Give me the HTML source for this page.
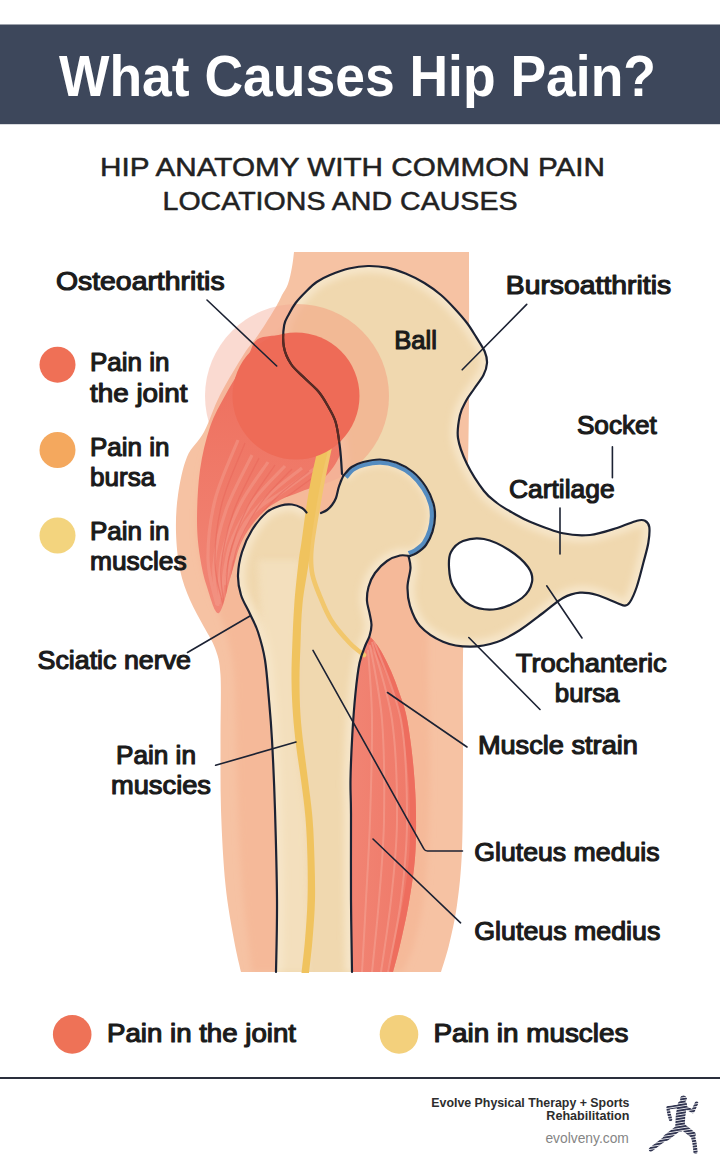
<!DOCTYPE html>
<html><head><meta charset="utf-8"><title>What Causes Hip Pain?</title>
<style>
html,body{margin:0;padding:0;background:#fff;}
body{width:720px;height:1171px;overflow:hidden;font-family:"Liberation Sans",sans-serif;}
svg{display:block;font-family:"Liberation Sans",sans-serif;}
</style></head>
<body>
<svg width="720" height="1171" viewBox="0 0 720 1171">
<defs>
<clipPath id="pc"><path d="M342.0,474.0 C341.7,469.7 341.1,456.7 340.0,448.0 C338.9,439.3 337.8,429.2 335.6,422.0 C333.4,414.8 329.9,409.7 327.0,404.5 C324.1,399.3 321.8,395.4 318.0,391.0 C314.2,386.6 309.0,382.5 304.5,378.0 C300.0,373.5 294.4,369.2 291.0,364.0 C287.6,358.8 284.9,353.0 283.8,346.5 C282.7,340.0 283.3,330.4 284.2,325.0 C285.1,319.6 287.1,317.7 289.0,314.0 C290.9,310.3 292.8,306.7 295.6,303.0 C298.4,299.3 302.1,295.5 305.6,292.0 C309.1,288.5 312.6,284.8 316.7,282.0 C320.8,279.2 324.6,277.2 330.0,275.0 C335.4,272.8 342.7,270.0 349.0,268.5 C355.3,267.0 361.7,266.1 368.0,266.0 C374.3,265.9 380.7,266.4 387.0,267.7 C393.3,269.0 399.4,271.1 405.6,273.6 C411.8,276.2 418.5,279.4 424.4,283.0 C430.3,286.6 435.9,290.7 441.0,295.0 C446.1,299.3 450.7,304.3 455.0,309.0 C459.3,313.7 463.4,318.3 467.0,323.0 C470.6,327.7 473.4,332.6 476.4,337.4 C479.3,342.1 482.9,347.2 484.7,351.5 C486.5,355.8 487.2,359.1 487.0,363.0 C486.8,366.9 485.7,370.7 483.5,375.0 C481.3,379.3 476.9,384.7 474.0,389.0 C471.1,393.3 468.3,396.7 466.0,401.0 C463.7,405.3 461.3,408.8 460.0,415.0 C458.7,421.2 456.8,429.8 458.0,438.0 C459.2,446.2 462.7,455.2 467.0,464.0 C471.3,472.8 479.0,484.5 484.0,491.0 C489.0,497.5 492.2,499.3 497.0,503.0 C501.8,506.7 507.5,509.9 513.0,513.0 C518.5,516.1 521.7,518.3 530.0,521.7 C538.3,525.1 553.0,531.1 563.0,533.3 C573.0,535.5 581.0,535.9 590.0,535.0 C599.0,534.1 609.2,530.4 617.0,528.0 C624.8,525.6 632.3,521.9 637.0,520.7 C641.7,519.5 643.0,519.7 645.0,520.7 C647.0,521.8 648.8,523.3 649.3,527.0 C649.8,530.7 649.3,537.0 648.3,543.0 C647.3,549.0 645.2,555.7 643.3,563.0 C641.4,570.3 638.9,580.5 636.7,587.0 C634.5,593.5 632.0,598.9 630.0,602.0 C628.0,605.1 627.2,605.5 625.0,605.7 C622.8,605.9 621.7,604.8 617.0,603.0 C612.3,601.2 603.2,596.7 597.0,595.0 C590.8,593.3 585.7,592.2 580.0,592.7 C574.3,593.2 569.2,594.6 563.0,598.0 C556.8,601.4 550.2,607.7 543.0,613.0 C535.8,618.3 527.7,625.2 520.0,630.0 C512.3,634.8 505.3,639.2 497.0,642.0 C488.7,644.8 479.0,646.8 470.0,646.7 C461.0,646.7 451.3,645.2 443.0,641.7 C434.7,638.2 425.5,632.0 420.0,626.0 C414.5,620.0 412.1,612.5 410.0,606.0 C407.9,599.5 407.4,593.3 407.5,587.0 C407.6,580.7 410.3,573.2 410.5,568.0 C410.7,562.8 408.8,558.0 408.5,556.0 L386,510 Z"/></clipPath>
<clipPath id="fc"><path d="M343.5,475.5 C344.9,474.1 348.4,469.2 351.7,467.0 C355.0,464.8 358.6,463.2 363.3,462.0 C368.0,460.8 374.4,459.4 380.0,459.5 C385.6,459.6 391.2,460.7 396.7,462.8 C402.2,464.9 408.1,468.0 413.0,472.0 C417.9,476.0 422.6,481.8 426.0,487.0 C429.4,492.2 431.9,498.4 433.4,503.3 C434.9,508.2 435.1,512.0 435.0,516.7 C434.9,521.4 434.0,527.0 432.5,531.7 C431.0,536.4 428.6,541.5 426.0,545.0 C423.4,548.5 419.4,551.2 416.7,553.0 C414.0,554.8 411.1,555.5 410.0,556.0 C408.3,555.9 403.8,554.7 400.0,555.5 C396.2,556.3 391.2,558.1 387.0,561.0 C382.8,563.9 378.1,568.7 375.0,573.0 C371.9,577.3 369.8,582.3 368.5,587.0 C367.2,591.7 366.8,596.7 367.0,601.0 C367.2,605.3 368.8,609.0 369.5,613.0 C370.2,617.0 371.5,621.2 371.5,625.0 C371.5,628.8 370.5,632.7 369.5,636.0 C368.5,639.3 367.2,640.5 365.5,645.0 C363.8,649.5 361.2,654.8 359.5,663.0 C357.8,671.2 356.6,682.0 355.4,694.0 C354.2,706.0 353.1,720.7 352.3,735.0 C351.5,749.3 350.7,766.8 350.5,780.0 C350.3,793.2 350.9,794.0 351.0,814.0 C351.1,834.0 350.8,873.7 351.0,900.0 C351.2,926.3 351.8,960.0 352.0,972.0 L276,972 C276.2,960.0 277.2,927.0 277.0,900.0 C276.8,873.0 275.8,836.7 275.0,810.0 C274.2,783.3 273.0,758.3 272.0,740.0 C271.0,721.7 270.2,713.3 269.0,700.0 C267.8,686.7 266.8,671.3 265.0,660.0 C263.2,648.7 260.5,639.7 258.0,632.0 C255.5,624.3 252.8,620.2 250.0,614.0 C247.2,607.8 243.0,601.5 241.0,595.0 C239.0,588.5 237.8,582.2 238.0,575.0 C238.2,567.8 239.7,559.5 242.0,552.0 C244.3,544.5 247.8,536.7 252.0,530.0 C256.2,523.3 262.2,516.1 267.0,512.0 C271.8,507.9 276.8,506.8 281.0,505.5 C285.2,504.2 288.5,504.1 292.0,504.5 C295.5,504.9 299.6,506.7 302.0,508.0 C304.4,509.3 305.8,511.8 306.5,512.5 L321,513 C322.0,512.5 325.2,511.3 327.0,510.0 C328.8,508.7 330.5,507.0 332.0,505.0 C333.5,503.0 334.9,500.8 336.0,498.0 C337.1,495.2 337.7,490.8 338.5,488.0 C339.3,485.2 340.2,483.1 341.0,481.0 C341.8,478.9 343.1,476.4 343.5,475.5 Z"/></clipPath>
<clipPath id="gc"><path d="M263.0,337.0 C250.7,339.7 252.2,351.5 246.0,361.0 C239.8,370.5 232.0,383.0 226.0,394.0 C220.0,405.0 214.3,414.3 210.0,427.0 C205.7,439.7 202.2,454.5 200.0,470.0 C197.8,485.5 197.0,505.5 197.0,520.0 C197.0,534.5 198.3,545.8 200.0,557.0 C201.7,568.2 203.8,577.7 207.0,587.0 C210.2,596.3 214.8,615.5 219.0,613.0 C223.2,610.5 228.2,584.0 232.0,572.0 C235.8,560.0 237.3,550.5 242.0,541.0 C246.7,531.5 253.7,521.8 260.0,515.0 C266.3,508.2 273.3,503.8 280.0,500.0 C286.7,496.2 293.3,495.0 300.0,492.0 C306.7,489.0 313.3,488.2 320.0,482.0 C326.7,475.8 335.0,467.0 340.0,455.0 C345.0,443.0 353.3,428.3 350.0,410.0 C346.7,391.7 334.5,357.2 320.0,345.0 C305.5,332.8 275.3,334.3 263.0,337.0Z"/></clipPath>
<clipPath id="mc"><path d="M369.0,636.0 C369.8,636.8 372.0,638.5 374.0,641.0 C376.0,643.5 378.2,646.0 381.0,651.0 C383.8,656.0 388.0,664.2 391.0,671.0 C394.0,677.8 396.5,684.8 399.0,692.0 C401.5,699.2 404.0,705.2 406.0,714.0 C408.0,722.8 409.6,734.0 411.0,745.0 C412.4,756.0 413.7,768.5 414.5,780.0 C415.3,791.5 415.9,801.0 416.0,814.0 C416.1,827.0 416.2,843.3 415.0,858.0 C413.8,872.7 411.5,887.5 409.0,902.0 C406.5,916.5 402.7,933.3 400.0,945.0 C397.3,956.7 394.2,967.5 393.0,972.0 L352,972 L351,900 L351,814 L350.5,780 L352.3,735 L355.4,694 L359.5,663 L365.5,645 Z"/></clipPath>
<clipPath id="sc"><path d="M294.0,252.0 C293.7,254.5 293.0,261.7 292.0,267.0 C291.0,272.3 289.7,279.3 288.0,284.0 C286.3,288.7 283.8,291.5 282.0,295.0 C280.2,298.5 279.7,300.3 277.0,305.0 C274.3,309.7 269.5,317.5 266.0,323.0 C262.5,328.5 259.7,332.8 256.0,338.0 C252.3,343.2 250.0,344.5 244.0,354.0 C238.0,363.5 226.7,382.0 220.0,395.0 C213.3,408.0 209.5,421.7 204.0,432.0 C198.5,442.3 191.3,446.5 187.0,457.0 C182.7,467.5 179.8,482.5 178.0,495.0 C176.2,507.5 175.7,519.5 176.0,532.0 C176.3,544.5 177.7,558.7 180.0,570.0 C182.3,581.3 186.0,590.5 190.0,600.0 C194.0,609.5 199.8,619.0 204.0,627.0 C208.2,635.0 212.2,640.0 215.0,648.0 C217.8,656.0 219.6,659.7 220.5,675.0 C221.4,690.3 220.4,717.5 220.5,740.0 C220.6,762.5 220.2,785.8 221.0,810.0 C221.8,834.2 223.3,863.3 225.5,885.0 C227.7,906.7 231.4,925.5 234.0,940.0 C236.6,954.5 239.8,966.7 241.0,972.0 L441,972 C442.3,967.5 446.3,956.2 449.0,945.0 C451.7,933.8 454.8,920.8 457.0,905.0 C459.2,889.2 461.0,874.2 462.0,850.0 C463.0,825.8 462.8,791.7 463.0,760.0 C463.2,728.3 462.5,693.3 463.0,660.0 C463.5,626.7 465.0,603.3 466.0,560.0 C467.0,516.7 468.5,451.3 469.0,400.0 C469.5,348.7 469.0,276.7 469.0,252.0 Z"/></clipPath>
<linearGradient id="gg" x1="0" y1="0" x2="0" y2="1"><stop offset="0" stop-color="#ee6d5b"/><stop offset="1" stop-color="#f18676"/></linearGradient>
<linearGradient id="mg" x1="0" y1="0" x2="1" y2="0"><stop offset="0" stop-color="#f18473"/><stop offset="1" stop-color="#ef7868"/></linearGradient>
<pattern id="sp" width="10" height="2.7" patternUnits="userSpaceOnUse" patternTransform="rotate(-9 680 1120)"><rect width="10" height="2.7" fill="#fff"/><rect y="1.75" width="10" height="0.95" fill="#222"/></pattern>
<mask id="stripes" maskUnits="userSpaceOnUse" x="640" y="1088" width="70" height="75"><rect x="640" y="1088" width="70" height="75" fill="url(#sp)"/></mask>
<filter id="b3" x="-10%" y="-10%" width="120%" height="120%"><feGaussianBlur stdDeviation="3"/></filter>
</defs>
<rect width="720" height="1171" fill="#ffffff"/>
<!-- header -->
<rect x="0" y="24.5" width="720" height="99.7" fill="#3d475b"/>
<text x="59" y="95.8" font-size="57.5" font-weight="bold" fill="#ffffff" text-anchor="start" textLength="597" lengthAdjust="spacingAndGlyphs">What Causes Hip Pain?</text>
<text x="100" y="176" font-size="26" font-weight="normal" fill="#222" text-anchor="start" textLength="505" lengthAdjust="spacingAndGlyphs" stroke="#222" stroke-width="0.5" stroke-linejoin="round">HIP ANATOMY WITH COMMON PAIN</text>
<text x="162.5" y="210" font-size="26" font-weight="normal" fill="#222" text-anchor="start" textLength="355" lengthAdjust="spacingAndGlyphs" stroke="#222" stroke-width="0.5" stroke-linejoin="round">LOCATIONS AND CAUSES</text>

<!-- anatomy -->
<g id="anatomy">
<path d="M294.0,252.0 C293.7,254.5 293.0,261.7 292.0,267.0 C291.0,272.3 289.7,279.3 288.0,284.0 C286.3,288.7 283.8,291.5 282.0,295.0 C280.2,298.5 279.7,300.3 277.0,305.0 C274.3,309.7 269.5,317.5 266.0,323.0 C262.5,328.5 259.7,332.8 256.0,338.0 C252.3,343.2 250.0,344.5 244.0,354.0 C238.0,363.5 226.7,382.0 220.0,395.0 C213.3,408.0 209.5,421.7 204.0,432.0 C198.5,442.3 191.3,446.5 187.0,457.0 C182.7,467.5 179.8,482.5 178.0,495.0 C176.2,507.5 175.7,519.5 176.0,532.0 C176.3,544.5 177.7,558.7 180.0,570.0 C182.3,581.3 186.0,590.5 190.0,600.0 C194.0,609.5 199.8,619.0 204.0,627.0 C208.2,635.0 212.2,640.0 215.0,648.0 C217.8,656.0 219.6,659.7 220.5,675.0 C221.4,690.3 220.4,717.5 220.5,740.0 C220.6,762.5 220.2,785.8 221.0,810.0 C221.8,834.2 223.3,863.3 225.5,885.0 C227.7,906.7 231.4,925.5 234.0,940.0 C236.6,954.5 239.8,966.7 241.0,972.0 L441,972 C442.3,967.5 446.3,956.2 449.0,945.0 C451.7,933.8 454.8,920.8 457.0,905.0 C459.2,889.2 461.0,874.2 462.0,850.0 C463.0,825.8 462.8,791.7 463.0,760.0 C463.2,728.3 462.5,693.3 463.0,660.0 C463.5,626.7 465.0,603.3 466.0,560.0 C467.0,516.7 468.5,451.3 469.0,400.0 C469.5,348.7 469.0,276.7 469.0,252.0 Z" fill="#f6c2a3"/>
<g clip-path="url(#sc)"><path d="M300.0,300.0 C297.5,304.2 291.3,316.7 285.0,325.0 C278.7,333.3 269.8,338.8 262.0,350.0 C254.2,361.2 245.5,378.3 238.0,392.0 C230.5,405.7 222.8,419.8 217.0,432.0 C211.2,444.2 206.3,450.3 203.0,465.0 C199.7,479.7 197.5,504.5 197.0,520.0 C196.5,535.5 198.2,546.7 200.0,558.0 C201.8,569.3 204.8,578.8 208.0,588.0 C211.2,597.2 215.7,604.3 219.0,613.0 C222.3,621.7 225.5,629.7 228.0,640.0 C230.5,650.3 232.7,658.3 234.0,675.0 C235.3,691.7 235.3,717.5 236.0,740.0 C236.7,762.5 237.0,785.8 238.0,810.0 C239.0,834.2 240.3,863.3 242.0,885.0 C243.7,906.7 246.3,925.5 248.0,940.0 C249.7,954.5 251.3,966.7 252.0,972.0 L403,972 C404.8,967.5 410.7,956.2 414.0,945.0 C417.3,933.8 420.7,920.8 423.0,905.0 C425.3,889.2 426.8,874.2 428.0,850.0 C429.2,825.8 430.0,791.7 430.0,760.0 C430.0,728.3 428.0,686.7 428.0,660.0 C428.0,633.3 428.0,626.7 430.0,600.0 C432.0,573.3 439.2,550.0 440.0,500.0 C440.8,450.0 435.8,333.3 435.0,300.0 Z" fill="#f5b999" filter="url(#b3)"/></g>
<circle cx="297" cy="396" r="92" fill="#f2a692" opacity="0.42"/>
<path d="M263.0,337.0 C250.7,339.7 252.2,351.5 246.0,361.0 C239.8,370.5 232.0,383.0 226.0,394.0 C220.0,405.0 214.3,414.3 210.0,427.0 C205.7,439.7 202.2,454.5 200.0,470.0 C197.8,485.5 197.0,505.5 197.0,520.0 C197.0,534.5 198.3,545.8 200.0,557.0 C201.7,568.2 203.8,577.7 207.0,587.0 C210.2,596.3 214.8,615.5 219.0,613.0 C223.2,610.5 228.2,584.0 232.0,572.0 C235.8,560.0 237.3,550.5 242.0,541.0 C246.7,531.5 253.7,521.8 260.0,515.0 C266.3,508.2 273.3,503.8 280.0,500.0 C286.7,496.2 293.3,495.0 300.0,492.0 C306.7,489.0 313.3,488.2 320.0,482.0 C326.7,475.8 335.0,467.0 340.0,455.0 C345.0,443.0 353.3,428.3 350.0,410.0 C346.7,391.7 334.5,357.2 320.0,345.0 C305.5,332.8 275.3,334.3 263.0,337.0Z" fill="url(#gg)"/>
<g clip-path="url(#gc)" fill="none" stroke="#f4a090" stroke-width="3.2" opacity="0.45">
<path d="M238.0,440.0 C234.2,450.0 220.0,480.0 215.0,500.0 C210.0,520.0 207.7,542.5 208.0,560.0 C208.3,577.5 215.5,597.5 217.0,605.0"/>
<path d="M252.0,455.0 C247.7,464.2 232.3,491.7 226.0,510.0 C219.7,528.3 215.3,549.0 214.0,565.0 C212.7,581.0 217.3,599.2 218.0,606.0"/>
<path d="M268.0,462.0 C263.3,469.2 247.7,489.5 240.0,505.0 C232.3,520.5 225.5,538.5 222.0,555.0 C218.5,571.5 219.5,595.8 219.0,604.0"/>
<path d="M285.0,466.0 C279.8,471.7 263.2,486.8 254.0,500.0 C244.8,513.2 235.5,528.7 230.0,545.0 C224.5,561.3 222.5,589.2 221.0,598.0"/>
<path d="M302.0,468.0 C296.3,472.7 278.3,485.3 268.0,496.0 C257.7,506.7 247.2,517.2 240.0,532.0 C232.8,546.8 227.5,576.2 225.0,585.0"/>
<path d="M318.0,466.0 C312.5,470.0 296.0,481.8 285.0,490.0 C274.0,498.2 260.8,503.3 252.0,515.0 C243.2,526.7 235.3,552.5 232.0,560.0"/>
</g>
<g clip-path="url(#gc)" fill="none" stroke="#e8675a" stroke-width="1.3" opacity="0.55">
<path d="M245.0,443.0 C241.2,453.0 227.0,483.0 222.0,503.0 C217.0,523.0 214.7,545.5 215.0,563.0 C215.3,580.5 222.5,600.5 224.0,608.0"/>
<path d="M259.0,458.0 C254.7,467.2 239.3,494.7 233.0,513.0 C226.7,531.3 222.3,552.0 221.0,568.0 C219.7,584.0 224.3,602.2 225.0,609.0"/>
<path d="M275.0,465.0 C270.3,472.2 254.7,492.5 247.0,508.0 C239.3,523.5 232.5,541.5 229.0,558.0 C225.5,574.5 226.5,598.8 226.0,607.0"/>
<path d="M292.0,469.0 C286.8,474.7 270.2,489.8 261.0,503.0 C251.8,516.2 242.5,531.7 237.0,548.0 C231.5,564.3 229.5,592.2 228.0,601.0"/>
<path d="M309.0,471.0 C303.3,475.7 285.3,488.3 275.0,499.0 C264.7,509.7 254.2,520.2 247.0,535.0 C239.8,549.8 234.5,579.2 232.0,588.0"/>
<path d="M325.0,469.0 C319.5,473.0 303.0,484.8 292.0,493.0 C281.0,501.2 267.8,506.3 259.0,518.0 C250.2,529.7 242.3,555.5 239.0,563.0"/>
</g>
<path d="M369.0,636.0 C369.8,636.8 372.0,638.5 374.0,641.0 C376.0,643.5 378.2,646.0 381.0,651.0 C383.8,656.0 388.0,664.2 391.0,671.0 C394.0,677.8 396.5,684.8 399.0,692.0 C401.5,699.2 404.0,705.2 406.0,714.0 C408.0,722.8 409.6,734.0 411.0,745.0 C412.4,756.0 413.7,768.5 414.5,780.0 C415.3,791.5 415.9,801.0 416.0,814.0 C416.1,827.0 416.2,843.3 415.0,858.0 C413.8,872.7 411.5,887.5 409.0,902.0 C406.5,916.5 402.7,933.3 400.0,945.0 C397.3,956.7 394.2,967.5 393.0,972.0 L352,972 L351,900 L351,814 L350.5,780 L352.3,735 L355.4,694 L359.5,663 L365.5,645 Z" fill="url(#mg)"/>
<g clip-path="url(#mc)"><path d="M369.0,636.0 C369.8,636.8 372.0,638.5 374.0,641.0 C376.0,643.5 378.2,646.0 381.0,651.0 C383.8,656.0 388.0,664.2 391.0,671.0 C394.0,677.8 396.5,684.8 399.0,692.0 C401.5,699.2 404.0,705.2 406.0,714.0 C408.0,722.8 409.6,734.0 411.0,745.0 C412.4,756.0 413.7,768.5 414.5,780.0 C415.3,791.5 415.9,801.0 416.0,814.0 C416.1,827.0 416.2,843.3 415.0,858.0 C413.8,872.7 411.5,887.5 409.0,902.0 C406.5,916.5 402.7,933.3 400.0,945.0 C397.3,956.7 394.2,967.5 393.0,972.0" fill="none" stroke="#ed6a5b" stroke-width="12" opacity="0.8"/></g>
<g clip-path="url(#mc)" fill="none" stroke="#f5a596" stroke-width="2" opacity="0.55">
<path d="M368.0,650.0 C368.7,661.7 371.7,691.7 372.0,720.0 C372.3,748.3 371.0,790.0 370.0,820.0 C369.0,850.0 367.3,874.7 366.0,900.0 C364.7,925.3 362.7,960.0 362.0,972.0"/>
<path d="M370.0,645.0 C372.0,657.5 379.7,690.8 382.0,720.0 C384.3,749.2 384.5,790.0 384.0,820.0 C383.5,850.0 381.0,874.7 379.0,900.0 C377.0,925.3 373.2,960.0 372.0,972.0"/>
<path d="M372.0,642.0 C375.3,655.0 387.8,690.3 392.0,720.0 C396.2,749.7 397.2,790.0 397.0,820.0 C396.8,850.0 393.7,874.7 391.0,900.0 C388.3,925.3 382.7,960.0 381.0,972.0"/>
<path d="M374.0,641.0 C378.5,654.2 395.5,690.2 401.0,720.0 C406.5,749.8 407.0,790.0 407.0,820.0 C407.0,850.0 404.2,874.7 401.0,900.0 C397.8,925.3 390.2,960.0 388.0,972.0"/>
</g>
<!-- pelvis -->
<path d="M342.0,474.0 C341.7,469.7 341.1,456.7 340.0,448.0 C338.9,439.3 337.8,429.2 335.6,422.0 C333.4,414.8 329.9,409.7 327.0,404.5 C324.1,399.3 321.8,395.4 318.0,391.0 C314.2,386.6 309.0,382.5 304.5,378.0 C300.0,373.5 294.4,369.2 291.0,364.0 C287.6,358.8 284.9,353.0 283.8,346.5 C282.7,340.0 283.3,330.4 284.2,325.0 C285.1,319.6 287.1,317.7 289.0,314.0 C290.9,310.3 292.8,306.7 295.6,303.0 C298.4,299.3 302.1,295.5 305.6,292.0 C309.1,288.5 312.6,284.8 316.7,282.0 C320.8,279.2 324.6,277.2 330.0,275.0 C335.4,272.8 342.7,270.0 349.0,268.5 C355.3,267.0 361.7,266.1 368.0,266.0 C374.3,265.9 380.7,266.4 387.0,267.7 C393.3,269.0 399.4,271.1 405.6,273.6 C411.8,276.2 418.5,279.4 424.4,283.0 C430.3,286.6 435.9,290.7 441.0,295.0 C446.1,299.3 450.7,304.3 455.0,309.0 C459.3,313.7 463.4,318.3 467.0,323.0 C470.6,327.7 473.4,332.6 476.4,337.4 C479.3,342.1 482.9,347.2 484.7,351.5 C486.5,355.8 487.2,359.1 487.0,363.0 C486.8,366.9 485.7,370.7 483.5,375.0 C481.3,379.3 476.9,384.7 474.0,389.0 C471.1,393.3 468.3,396.7 466.0,401.0 C463.7,405.3 461.3,408.8 460.0,415.0 C458.7,421.2 456.8,429.8 458.0,438.0 C459.2,446.2 462.7,455.2 467.0,464.0 C471.3,472.8 479.0,484.5 484.0,491.0 C489.0,497.5 492.2,499.3 497.0,503.0 C501.8,506.7 507.5,509.9 513.0,513.0 C518.5,516.1 521.7,518.3 530.0,521.7 C538.3,525.1 553.0,531.1 563.0,533.3 C573.0,535.5 581.0,535.9 590.0,535.0 C599.0,534.1 609.2,530.4 617.0,528.0 C624.8,525.6 632.3,521.9 637.0,520.7 C641.7,519.5 643.0,519.7 645.0,520.7 C647.0,521.8 648.8,523.3 649.3,527.0 C649.8,530.7 649.3,537.0 648.3,543.0 C647.3,549.0 645.2,555.7 643.3,563.0 C641.4,570.3 638.9,580.5 636.7,587.0 C634.5,593.5 632.0,598.9 630.0,602.0 C628.0,605.1 627.2,605.5 625.0,605.7 C622.8,605.9 621.7,604.8 617.0,603.0 C612.3,601.2 603.2,596.7 597.0,595.0 C590.8,593.3 585.7,592.2 580.0,592.7 C574.3,593.2 569.2,594.6 563.0,598.0 C556.8,601.4 550.2,607.7 543.0,613.0 C535.8,618.3 527.7,625.2 520.0,630.0 C512.3,634.8 505.3,639.2 497.0,642.0 C488.7,644.8 479.0,646.8 470.0,646.7 C461.0,646.7 451.3,645.2 443.0,641.7 C434.7,638.2 425.5,632.0 420.0,626.0 C414.5,620.0 412.1,612.5 410.0,606.0 C407.9,599.5 407.4,593.3 407.5,587.0 C407.6,580.7 410.3,573.2 410.5,568.0 C410.7,562.8 408.8,558.0 408.5,556.0 L386,510 Z" fill="#f0d8af"/>
<g clip-path="url(#pc)"><path d="M342.0,474.0 C341.7,469.7 341.1,456.7 340.0,448.0 C338.9,439.3 337.8,429.2 335.6,422.0 C333.4,414.8 329.9,409.7 327.0,404.5 C324.1,399.3 321.8,395.4 318.0,391.0 C314.2,386.6 309.0,382.5 304.5,378.0 C300.0,373.5 294.4,369.2 291.0,364.0 C287.6,358.8 284.9,353.0 283.8,346.5 C282.7,340.0 283.3,330.4 284.2,325.0 C285.1,319.6 287.1,317.7 289.0,314.0 C290.9,310.3 292.8,306.7 295.6,303.0 C298.4,299.3 302.1,295.5 305.6,292.0 C309.1,288.5 312.6,284.8 316.7,282.0 C320.8,279.2 324.6,277.2 330.0,275.0 C335.4,272.8 342.7,270.0 349.0,268.5 C355.3,267.0 361.7,266.1 368.0,266.0 C374.3,265.9 380.7,266.4 387.0,267.7 C393.3,269.0 399.4,271.1 405.6,273.6 C411.8,276.2 418.5,279.4 424.4,283.0 C430.3,286.6 435.9,290.7 441.0,295.0 C446.1,299.3 450.7,304.3 455.0,309.0 C459.3,313.7 463.4,318.3 467.0,323.0 C470.6,327.7 473.4,332.6 476.4,337.4 C479.3,342.1 482.9,347.2 484.7,351.5 C486.5,355.8 487.2,359.1 487.0,363.0 C486.8,366.9 485.7,370.7 483.5,375.0 C481.3,379.3 476.9,384.7 474.0,389.0 C471.1,393.3 468.3,396.7 466.0,401.0 C463.7,405.3 461.3,408.8 460.0,415.0 C458.7,421.2 456.8,429.8 458.0,438.0 C459.2,446.2 462.7,455.2 467.0,464.0 C471.3,472.8 479.0,484.5 484.0,491.0 C489.0,497.5 492.2,499.3 497.0,503.0 C501.8,506.7 507.5,509.9 513.0,513.0 C518.5,516.1 521.7,518.3 530.0,521.7 C538.3,525.1 553.0,531.1 563.0,533.3 C573.0,535.5 581.0,535.9 590.0,535.0 C599.0,534.1 609.2,530.4 617.0,528.0 C624.8,525.6 632.3,521.9 637.0,520.7 C641.7,519.5 643.0,519.7 645.0,520.7 C647.0,521.8 648.8,523.3 649.3,527.0 C649.8,530.7 649.3,537.0 648.3,543.0 C647.3,549.0 645.2,555.7 643.3,563.0 C641.4,570.3 638.9,580.5 636.7,587.0 C634.5,593.5 632.0,598.9 630.0,602.0 C628.0,605.1 627.2,605.5 625.0,605.7 C622.8,605.9 621.7,604.8 617.0,603.0 C612.3,601.2 603.2,596.7 597.0,595.0 C590.8,593.3 585.7,592.2 580.0,592.7 C574.3,593.2 569.2,594.6 563.0,598.0 C556.8,601.4 550.2,607.7 543.0,613.0 C535.8,618.3 527.7,625.2 520.0,630.0 C512.3,634.8 505.3,639.2 497.0,642.0 C488.7,644.8 479.0,646.8 470.0,646.7 C461.0,646.7 451.3,645.2 443.0,641.7 C434.7,638.2 425.5,632.0 420.0,626.0 C414.5,620.0 412.1,612.5 410.0,606.0 C407.9,599.5 407.4,593.3 407.5,587.0 C407.6,580.7 410.3,573.2 410.5,568.0 C410.7,562.8 408.8,558.0 408.5,556.0" fill="none" stroke="#f6e5c8" stroke-width="14" filter="url(#b3)"/></g>
<path d="M449.0,567.0 C448.7,561.3 448.7,556.3 451.0,552.0 C453.3,547.7 457.5,543.2 463.0,541.0 C468.5,538.8 476.3,537.5 484.0,539.0 C491.7,540.5 501.7,545.3 509.0,550.0 C516.3,554.7 524.2,561.7 528.0,567.0 C531.8,572.3 533.0,576.8 532.0,582.0 C531.0,587.2 527.8,593.5 522.0,598.0 C516.2,602.5 505.7,607.8 497.0,609.0 C488.3,610.2 477.3,608.8 470.0,605.0 C462.7,601.2 456.5,592.3 453.0,586.0 C449.5,579.7 449.3,572.7 449.0,567.0Z" fill="#ffffff"/>
<!-- femur -->
<path d="M343.5,475.5 C344.9,474.1 348.4,469.2 351.7,467.0 C355.0,464.8 358.6,463.2 363.3,462.0 C368.0,460.8 374.4,459.4 380.0,459.5 C385.6,459.6 391.2,460.7 396.7,462.8 C402.2,464.9 408.1,468.0 413.0,472.0 C417.9,476.0 422.6,481.8 426.0,487.0 C429.4,492.2 431.9,498.4 433.4,503.3 C434.9,508.2 435.1,512.0 435.0,516.7 C434.9,521.4 434.0,527.0 432.5,531.7 C431.0,536.4 428.6,541.5 426.0,545.0 C423.4,548.5 419.4,551.2 416.7,553.0 C414.0,554.8 411.1,555.5 410.0,556.0 C408.3,555.9 403.8,554.7 400.0,555.5 C396.2,556.3 391.2,558.1 387.0,561.0 C382.8,563.9 378.1,568.7 375.0,573.0 C371.9,577.3 369.8,582.3 368.5,587.0 C367.2,591.7 366.8,596.7 367.0,601.0 C367.2,605.3 368.8,609.0 369.5,613.0 C370.2,617.0 371.5,621.2 371.5,625.0 C371.5,628.8 370.5,632.7 369.5,636.0 C368.5,639.3 367.2,640.5 365.5,645.0 C363.8,649.5 361.2,654.8 359.5,663.0 C357.8,671.2 356.6,682.0 355.4,694.0 C354.2,706.0 353.1,720.7 352.3,735.0 C351.5,749.3 350.7,766.8 350.5,780.0 C350.3,793.2 350.9,794.0 351.0,814.0 C351.1,834.0 350.8,873.7 351.0,900.0 C351.2,926.3 351.8,960.0 352.0,972.0 L276,972 C276.2,960.0 277.2,927.0 277.0,900.0 C276.8,873.0 275.8,836.7 275.0,810.0 C274.2,783.3 273.0,758.3 272.0,740.0 C271.0,721.7 270.2,713.3 269.0,700.0 C267.8,686.7 266.8,671.3 265.0,660.0 C263.2,648.7 260.5,639.7 258.0,632.0 C255.5,624.3 252.8,620.2 250.0,614.0 C247.2,607.8 243.0,601.5 241.0,595.0 C239.0,588.5 237.8,582.2 238.0,575.0 C238.2,567.8 239.7,559.5 242.0,552.0 C244.3,544.5 247.8,536.7 252.0,530.0 C256.2,523.3 262.2,516.1 267.0,512.0 C271.8,507.9 276.8,506.8 281.0,505.5 C285.2,504.2 288.5,504.1 292.0,504.5 C295.5,504.9 299.6,506.7 302.0,508.0 C304.4,509.3 305.8,511.8 306.5,512.5 L321,513 C322.0,512.5 325.2,511.3 327.0,510.0 C328.8,508.7 330.5,507.0 332.0,505.0 C333.5,503.0 334.9,500.8 336.0,498.0 C337.1,495.2 337.7,490.8 338.5,488.0 C339.3,485.2 340.2,483.1 341.0,481.0 C341.8,478.9 343.1,476.4 343.5,475.5 Z" fill="#f0d8af"/>
<g clip-path="url(#fc)" fill="none" stroke="#f6e5c8" stroke-width="14" filter="url(#b3)">
<path d="M276.0,972.0 C276.2,960.0 277.2,927.0 277.0,900.0 C276.8,873.0 275.8,836.7 275.0,810.0 C274.2,783.3 273.0,758.3 272.0,740.0 C271.0,721.7 270.2,713.3 269.0,700.0 C267.8,686.7 266.8,671.3 265.0,660.0 C263.2,648.7 260.5,639.7 258.0,632.0 C255.5,624.3 252.8,620.2 250.0,614.0 C247.2,607.8 243.0,601.5 241.0,595.0 C239.0,588.5 237.8,582.2 238.0,575.0 C238.2,567.8 239.7,559.5 242.0,552.0 C244.3,544.5 247.8,536.7 252.0,530.0 C256.2,523.3 262.2,516.1 267.0,512.0 C271.8,507.9 276.8,506.8 281.0,505.5 C285.2,504.2 288.5,504.1 292.0,504.5 C295.5,504.9 299.6,506.7 302.0,508.0 C304.4,509.3 305.8,511.8 306.5,512.5"/><path d="M410.0,556.0 C408.3,555.9 403.8,554.7 400.0,555.5 C396.2,556.3 391.2,558.1 387.0,561.0 C382.8,563.9 378.1,568.7 375.0,573.0 C371.9,577.3 369.8,582.3 368.5,587.0 C367.2,591.7 366.8,596.7 367.0,601.0 C367.2,605.3 368.8,609.0 369.5,613.0 C370.2,617.0 371.5,621.2 371.5,625.0 C371.5,628.8 370.5,632.7 369.5,636.0 C368.5,639.3 367.2,640.5 365.5,645.0 C363.8,649.5 361.2,654.8 359.5,663.0 C357.8,671.2 356.6,682.0 355.4,694.0 C354.2,706.0 353.1,720.7 352.3,735.0 C351.5,749.3 350.7,766.8 350.5,780.0 C350.3,793.2 350.9,794.0 351.0,814.0 C351.1,834.0 350.8,873.7 351.0,900.0 C351.2,926.3 351.8,960.0 352.0,972.0"/><path d="M343.5,475.5 C344.9,474.1 348.4,469.2 351.7,467.0 C355.0,464.8 358.6,463.2 363.3,462.0 C368.0,460.8 374.4,459.4 380.0,459.5 C385.6,459.6 391.2,460.7 396.7,462.8 C402.2,464.9 408.1,468.0 413.0,472.0 C417.9,476.0 422.6,481.8 426.0,487.0 C429.4,492.2 431.9,498.4 433.4,503.3 C434.9,508.2 435.1,512.0 435.0,516.7 C434.9,521.4 434.0,527.0 432.5,531.7 C431.0,536.4 428.6,541.5 426.0,545.0 C423.4,548.5 419.4,551.2 416.7,553.0 C414.0,554.8 411.1,555.5 410.0,556.0"/>
</g>
<g clip-path="url(#fc)"><path d="M258,560 L300,560 L296,640 L296,740 L306,820 L309,972 L270,972 L262,640 Z" fill="#f6e5c8" opacity="0.55" filter="url(#b3)"/></g>
<!-- halo over bone -->
<circle cx="297" cy="396" r="92" fill="#f3a283" opacity="0.58" clip-path="url(#pc)"/>
<!-- nerve -->
<path d="M329.5,448.0 C328.3,453.5 324.6,470.3 322.5,481.0 C320.4,491.7 318.7,502.2 317.0,512.0 C315.3,521.8 313.5,532.3 312.5,540.0 C311.5,547.7 311.0,552.2 311.0,558.0 C311.0,563.8 311.2,569.0 312.5,575.0 C313.8,581.0 315.9,586.5 319.0,594.0 C322.1,601.5 325.9,611.8 331.0,620.0 C336.1,628.2 344.2,637.2 349.7,643.0 C355.2,648.8 361.6,653.0 364.0,655.0" fill="none" stroke="#f2c76c" stroke-width="4.6" stroke-linecap="round"/>
<path d="M318.0,448.0 C316.8,453.5 312.8,470.3 310.7,481.0 C308.6,491.7 307.1,501.8 305.6,512.0 C304.1,522.2 302.7,533.5 301.5,542.0 C300.3,550.5 299.6,552.7 298.4,563.0 C297.2,573.3 295.3,590.3 294.3,604.0 C293.3,617.7 292.8,632.3 292.3,645.0 C291.8,657.7 291.4,668.3 291.5,680.0 C291.6,691.7 292.2,704.2 293.0,715.0 C293.8,725.8 294.7,734.2 296.0,745.0 C297.3,755.8 299.4,767.8 301.0,780.0 C302.6,792.2 304.4,804.7 305.5,818.0 C306.6,831.3 307.2,846.3 307.5,860.0 C307.8,873.7 307.9,886.7 307.5,900.0 C307.1,913.3 306.0,927.8 305.0,940.0 C304.0,952.2 302.1,967.5 301.5,973.0 L309.0,973.0 C309.6,967.5 311.5,952.2 312.5,940.0 C313.5,927.8 314.7,913.3 315.0,900.0 C315.3,886.7 314.9,873.7 314.5,860.0 C314.1,846.3 313.6,831.3 312.5,818.0 C311.4,804.7 309.5,792.2 308.0,780.0 C306.5,767.8 304.8,755.8 303.5,745.0 C302.2,734.2 301.2,725.8 300.5,715.0 C299.8,704.2 299.5,691.7 299.5,680.0 C299.5,668.3 300.0,657.7 300.5,645.0 C301.0,632.3 301.1,617.7 302.5,604.0 C303.9,590.3 307.3,573.3 308.7,563.0 C310.1,552.7 309.9,550.5 311.0,542.0 C312.1,533.5 313.8,522.2 315.5,512.0 C317.2,501.8 318.8,491.7 321.0,481.0 C323.2,470.3 327.2,453.5 328.5,448.0 Z" fill="#f0c35e"/>
<!-- pain circle -->
<circle cx="296" cy="396" r="63.5" fill="#ee6b57"/>
<g fill="none" stroke="#1c2233" stroke-width="2.2" stroke-linecap="round" stroke-linejoin="round">
<path d="M342.0,474.0 C341.7,469.7 341.1,456.7 340.0,448.0 C338.9,439.3 337.8,429.2 335.6,422.0 C333.4,414.8 329.9,409.7 327.0,404.5 C324.1,399.3 321.8,395.4 318.0,391.0 C314.2,386.6 309.0,382.5 304.5,378.0 C300.0,373.5 294.4,369.2 291.0,364.0 C287.6,358.8 284.9,353.0 283.8,346.5 C282.7,340.0 283.3,330.4 284.2,325.0 C285.1,319.6 287.1,317.7 289.0,314.0 C290.9,310.3 292.8,306.7 295.6,303.0 C298.4,299.3 302.1,295.5 305.6,292.0 C309.1,288.5 312.6,284.8 316.7,282.0 C320.8,279.2 324.6,277.2 330.0,275.0 C335.4,272.8 342.7,270.0 349.0,268.5 C355.3,267.0 361.7,266.1 368.0,266.0 C374.3,265.9 380.7,266.4 387.0,267.7 C393.3,269.0 399.4,271.1 405.6,273.6 C411.8,276.2 418.5,279.4 424.4,283.0 C430.3,286.6 435.9,290.7 441.0,295.0 C446.1,299.3 450.7,304.3 455.0,309.0 C459.3,313.7 463.4,318.3 467.0,323.0 C470.6,327.7 473.4,332.6 476.4,337.4 C479.3,342.1 482.9,347.2 484.7,351.5 C486.5,355.8 487.2,359.1 487.0,363.0 C486.8,366.9 485.7,370.7 483.5,375.0 C481.3,379.3 476.9,384.7 474.0,389.0 C471.1,393.3 468.3,396.7 466.0,401.0 C463.7,405.3 461.3,408.8 460.0,415.0 C458.7,421.2 456.8,429.8 458.0,438.0 C459.2,446.2 462.7,455.2 467.0,464.0 C471.3,472.8 479.0,484.5 484.0,491.0 C489.0,497.5 492.2,499.3 497.0,503.0 C501.8,506.7 507.5,509.9 513.0,513.0 C518.5,516.1 521.7,518.3 530.0,521.7 C538.3,525.1 553.0,531.1 563.0,533.3 C573.0,535.5 581.0,535.9 590.0,535.0 C599.0,534.1 609.2,530.4 617.0,528.0 C624.8,525.6 632.3,521.9 637.0,520.7 C641.7,519.5 643.0,519.7 645.0,520.7 C647.0,521.8 648.8,523.3 649.3,527.0 C649.8,530.7 649.3,537.0 648.3,543.0 C647.3,549.0 645.2,555.7 643.3,563.0 C641.4,570.3 638.9,580.5 636.7,587.0 C634.5,593.5 632.0,598.9 630.0,602.0 C628.0,605.1 627.2,605.5 625.0,605.7 C622.8,605.9 621.7,604.8 617.0,603.0 C612.3,601.2 603.2,596.7 597.0,595.0 C590.8,593.3 585.7,592.2 580.0,592.7 C574.3,593.2 569.2,594.6 563.0,598.0 C556.8,601.4 550.2,607.7 543.0,613.0 C535.8,618.3 527.7,625.2 520.0,630.0 C512.3,634.8 505.3,639.2 497.0,642.0 C488.7,644.8 479.0,646.8 470.0,646.7 C461.0,646.7 451.3,645.2 443.0,641.7 C434.7,638.2 425.5,632.0 420.0,626.0 C414.5,620.0 412.1,612.5 410.0,606.0 C407.9,599.5 407.4,593.3 407.5,587.0 C407.6,580.7 410.3,573.2 410.5,568.0 C410.7,562.8 408.8,558.0 408.5,556.0"/>
<path d="M449.0,567.0 C448.7,561.3 448.7,556.3 451.0,552.0 C453.3,547.7 457.5,543.2 463.0,541.0 C468.5,538.8 476.3,537.5 484.0,539.0 C491.7,540.5 501.7,545.3 509.0,550.0 C516.3,554.7 524.2,561.7 528.0,567.0 C531.8,572.3 533.0,576.8 532.0,582.0 C531.0,587.2 527.8,593.5 522.0,598.0 C516.2,602.5 505.7,607.8 497.0,609.0 C488.3,610.2 477.3,608.8 470.0,605.0 C462.7,601.2 456.5,592.3 453.0,586.0 C449.5,579.7 449.3,572.7 449.0,567.0Z"/>
<path d="M410.0,556.0 C408.3,555.9 403.8,554.7 400.0,555.5 C396.2,556.3 391.2,558.1 387.0,561.0 C382.8,563.9 378.1,568.7 375.0,573.0 C371.9,577.3 369.8,582.3 368.5,587.0 C367.2,591.7 366.8,596.7 367.0,601.0 C367.2,605.3 368.8,609.0 369.5,613.0 C370.2,617.0 371.5,621.2 371.5,625.0 C371.5,628.8 370.5,632.7 369.5,636.0 C368.5,639.3 367.2,640.5 365.5,645.0 C363.8,649.5 361.2,654.8 359.5,663.0 C357.8,671.2 356.6,682.0 355.4,694.0 C354.2,706.0 353.1,720.7 352.3,735.0 C351.5,749.3 350.7,766.8 350.5,780.0 C350.3,793.2 350.9,794.0 351.0,814.0 C351.1,834.0 350.8,873.7 351.0,900.0 C351.2,926.3 351.8,960.0 352.0,972.0"/>
<path d="M276.0,972.0 C276.2,960.0 277.2,927.0 277.0,900.0 C276.8,873.0 275.8,836.7 275.0,810.0 C274.2,783.3 273.0,758.3 272.0,740.0 C271.0,721.7 270.2,713.3 269.0,700.0 C267.8,686.7 266.8,671.3 265.0,660.0 C263.2,648.7 260.5,639.7 258.0,632.0 C255.5,624.3 252.8,620.2 250.0,614.0 C247.2,607.8 243.0,601.5 241.0,595.0 C239.0,588.5 237.8,582.2 238.0,575.0 C238.2,567.8 239.7,559.5 242.0,552.0 C244.3,544.5 247.8,536.7 252.0,530.0 C256.2,523.3 262.2,516.1 267.0,512.0 C271.8,507.9 276.8,506.8 281.0,505.5 C285.2,504.2 288.5,504.1 292.0,504.5 C295.5,504.9 299.6,506.7 302.0,508.0 C304.4,509.3 305.8,511.8 306.5,512.5"/>
<path d="M343.5,475.5 C343.1,476.4 341.8,478.9 341.0,481.0 C340.2,483.1 339.3,485.2 338.5,488.0 C337.7,490.8 337.1,495.2 336.0,498.0 C334.9,500.8 333.5,503.0 332.0,505.0 C330.5,507.0 328.8,508.7 327.0,510.0 C325.2,511.3 322.0,512.5 321.0,513.0"/>
</g>
<clipPath id="rc"><circle cx="296" cy="396" r="63.5"/></clipPath>
<path d="M342.0,474.0 C341.7,469.7 341.1,456.7 340.0,448.0 C338.9,439.3 337.8,429.2 335.6,422.0 C333.4,414.8 329.9,409.7 327.0,404.5 C324.1,399.3 321.8,395.4 318.0,391.0 C314.2,386.6 309.0,382.5 304.5,378.0 C300.0,373.5 294.4,369.2 291.0,364.0 C287.6,358.8 284.9,353.0 283.8,346.5 C282.7,340.0 283.3,330.4 284.2,325.0 C285.1,319.6 287.1,317.7 289.0,314.0 C290.9,310.3 292.8,306.7 295.6,303.0 C298.4,299.3 302.1,295.5 305.6,292.0 C309.1,288.5 312.6,284.8 316.7,282.0 C320.8,279.2 324.6,277.2 330.0,275.0 C335.4,272.8 342.7,270.0 349.0,268.5 C355.3,267.0 361.7,266.1 368.0,266.0 C374.3,265.9 380.7,266.4 387.0,267.7 C393.3,269.0 399.4,271.1 405.6,273.6 C411.8,276.2 418.5,279.4 424.4,283.0 C430.3,286.6 435.9,290.7 441.0,295.0 C446.1,299.3 450.7,304.3 455.0,309.0 C459.3,313.7 463.4,318.3 467.0,323.0 C470.6,327.7 473.4,332.6 476.4,337.4 C479.3,342.1 482.9,347.2 484.7,351.5 C486.5,355.8 487.2,359.1 487.0,363.0 C486.8,366.9 485.7,370.7 483.5,375.0 C481.3,379.3 476.9,384.7 474.0,389.0 C471.1,393.3 468.3,396.7 466.0,401.0 C463.7,405.3 461.3,408.8 460.0,415.0 C458.7,421.2 456.8,429.8 458.0,438.0 C459.2,446.2 462.7,455.2 467.0,464.0 C471.3,472.8 479.0,484.5 484.0,491.0 C489.0,497.5 492.2,499.3 497.0,503.0 C501.8,506.7 507.5,509.9 513.0,513.0 C518.5,516.1 521.7,518.3 530.0,521.7 C538.3,525.1 553.0,531.1 563.0,533.3 C573.0,535.5 581.0,535.9 590.0,535.0 C599.0,534.1 609.2,530.4 617.0,528.0 C624.8,525.6 632.3,521.9 637.0,520.7 C641.7,519.5 643.0,519.7 645.0,520.7 C647.0,521.8 648.8,523.3 649.3,527.0 C649.8,530.7 649.3,537.0 648.3,543.0 C647.3,549.0 645.2,555.7 643.3,563.0 C641.4,570.3 638.9,580.5 636.7,587.0 C634.5,593.5 632.0,598.9 630.0,602.0 C628.0,605.1 627.2,605.5 625.0,605.7 C622.8,605.9 621.7,604.8 617.0,603.0 C612.3,601.2 603.2,596.7 597.0,595.0 C590.8,593.3 585.7,592.2 580.0,592.7 C574.3,593.2 569.2,594.6 563.0,598.0 C556.8,601.4 550.2,607.7 543.0,613.0 C535.8,618.3 527.7,625.2 520.0,630.0 C512.3,634.8 505.3,639.2 497.0,642.0 C488.7,644.8 479.0,646.8 470.0,646.7 C461.0,646.7 451.3,645.2 443.0,641.7 C434.7,638.2 425.5,632.0 420.0,626.0 C414.5,620.0 412.1,612.5 410.0,606.0 C407.9,599.5 407.4,593.3 407.5,587.0 C407.6,580.7 410.3,573.2 410.5,568.0 C410.7,562.8 408.8,558.0 408.5,556.0" fill="none" stroke="#5a2a22" stroke-width="2.2" clip-path="url(#rc)"/>
<path d="M345.9,477.3 C347.2,476.0 350.5,471.4 353.6,469.3 C356.8,467.2 360.2,465.8 364.7,464.7 C369.1,463.5 375.2,462.3 380.5,462.5 C385.7,462.6 391.0,463.7 396.2,465.8 C401.3,467.8 406.8,470.7 411.4,474.5 C415.9,478.3 420.3,483.7 423.4,488.6 C426.6,493.4 429.0,499.1 430.4,503.7 C431.9,508.4 432.1,511.8 432.0,516.3 C431.9,520.7 431.2,525.9 429.8,530.4 C428.4,534.8 426.3,539.6 423.8,543.0 C421.3,546.3 417.5,548.8 415.0,550.5 C412.5,552.2 409.8,552.8 408.7,553.3" fill="none" stroke="#558cc0" stroke-width="4.4" stroke-linecap="butt"/>
<path d="M343.5,475.5 C344.9,474.1 348.4,469.2 351.7,467.0 C355.0,464.8 358.6,463.2 363.3,462.0 C368.0,460.8 374.4,459.4 380.0,459.5 C385.6,459.6 391.2,460.7 396.7,462.8 C402.2,464.9 408.1,468.0 413.0,472.0 C417.9,476.0 422.6,481.8 426.0,487.0 C429.4,492.2 431.9,498.4 433.4,503.3 C434.9,508.2 435.1,512.0 435.0,516.7 C434.9,521.4 434.0,527.0 432.5,531.7 C431.0,536.4 428.6,541.5 426.0,545.0 C423.4,548.5 419.4,551.2 416.7,553.0 C414.0,554.8 411.1,555.5 410.0,556.0" fill="none" stroke="#1c2233" stroke-width="2.2" stroke-linecap="round"/>
</g>

<!-- leaders -->
<g stroke="#1c2233" stroke-width="1.6" stroke-linecap="round">
<line x1="207" y1="300" x2="276.7" y2="366"/>
<line x1="526.7" y1="304.4" x2="462.2" y2="369.8"/>
<line x1="612.4" y1="446.7" x2="612.4" y2="477.8"/>
<line x1="560" y1="508" x2="560" y2="554"/>
<line x1="546.7" y1="585.8" x2="582" y2="638"/>
<line x1="468.8" y1="637.5" x2="540" y2="709.5"/>
<line x1="387.5" y1="692.5" x2="467" y2="747"/>
<line x1="373" y1="839" x2="460.6" y2="922.8"/>
<line x1="187.5" y1="652.5" x2="250" y2="616"/>
<line x1="215.6" y1="765.3" x2="296" y2="742"/>
<path d="M313,650.4 L424,849 Q425,851 427.5,851 L462.5,851" fill="none"/>
</g>

<!-- legend dots -->
<circle cx="57.5" cy="364.7" r="18" fill="#ef7056"/>
<circle cx="57.5" cy="450" r="18" fill="#f4a85e"/>
<circle cx="57.5" cy="535.5" r="18" fill="#f3d47e"/>
<circle cx="72.2" cy="1034.4" r="19.3" fill="#ee7257"/>
<circle cx="399" cy="1034.4" r="19.3" fill="#f3d07c"/>

<!-- labels -->
<text x="56" y="289.7" font-size="25.5" font-weight="normal" fill="#1b1b1b" text-anchor="start" textLength="168.6" lengthAdjust="spacingAndGlyphs" stroke="#1b1b1b" stroke-width="1.15" stroke-linejoin="round">Osteoarthritis</text>
<text x="90" y="371.1" font-size="25.5" font-weight="normal" fill="#1b1b1b" text-anchor="start" textLength="79.4" lengthAdjust="spacingAndGlyphs" stroke="#1b1b1b" stroke-width="1.15" stroke-linejoin="round">Pain in</text>
<text x="90" y="401.7" font-size="25.5" font-weight="normal" fill="#1b1b1b" text-anchor="start" textLength="97.5" lengthAdjust="spacingAndGlyphs" stroke="#1b1b1b" stroke-width="1.15" stroke-linejoin="round">the joint</text>
<text x="90" y="455.6" font-size="25.5" font-weight="normal" fill="#1b1b1b" text-anchor="start" textLength="79.4" lengthAdjust="spacingAndGlyphs" stroke="#1b1b1b" stroke-width="1.15" stroke-linejoin="round">Pain in</text>
<text x="90" y="486.4" font-size="25.5" font-weight="normal" fill="#1b1b1b" text-anchor="start" textLength="65.3" lengthAdjust="spacingAndGlyphs" stroke="#1b1b1b" stroke-width="1.15" stroke-linejoin="round">bursa</text>
<text x="90" y="540.3" font-size="25.5" font-weight="normal" fill="#1b1b1b" text-anchor="start" textLength="79.4" lengthAdjust="spacingAndGlyphs" stroke="#1b1b1b" stroke-width="1.15" stroke-linejoin="round">Pain in</text>
<text x="90" y="570.3" font-size="25.5" font-weight="normal" fill="#1b1b1b" text-anchor="start" textLength="96.7" lengthAdjust="spacingAndGlyphs" stroke="#1b1b1b" stroke-width="1.15" stroke-linejoin="round">muscles</text>
<text x="37.5" y="669" font-size="25.5" font-weight="normal" fill="#1b1b1b" text-anchor="start" textLength="153.5" lengthAdjust="spacingAndGlyphs" stroke="#1b1b1b" stroke-width="1.15" stroke-linejoin="round">Sciatic nerve</text>
<text x="116" y="764" font-size="25.5" font-weight="normal" fill="#1b1b1b" text-anchor="start" textLength="80" lengthAdjust="spacingAndGlyphs" stroke="#1b1b1b" stroke-width="1.15" stroke-linejoin="round">Pain in</text>
<text x="111" y="794" font-size="25.5" font-weight="normal" fill="#1b1b1b" text-anchor="start" textLength="100" lengthAdjust="spacingAndGlyphs" stroke="#1b1b1b" stroke-width="1.15" stroke-linejoin="round">muscies</text>
<text x="505.8" y="294.2" font-size="25.5" font-weight="normal" fill="#1b1b1b" text-anchor="start" textLength="165.3" lengthAdjust="spacingAndGlyphs" stroke="#1b1b1b" stroke-width="1.15" stroke-linejoin="round">Bursoatthritis</text>
<text x="394.2" y="348.9" font-size="25.5" font-weight="normal" fill="#1b1b1b" text-anchor="start" textLength="42.7" lengthAdjust="spacingAndGlyphs" stroke="#1b1b1b" stroke-width="1.15" stroke-linejoin="round">Ball</text>
<text x="576.9" y="434.2" font-size="25.5" font-weight="normal" fill="#1b1b1b" text-anchor="start" textLength="80" lengthAdjust="spacingAndGlyphs" stroke="#1b1b1b" stroke-width="1.15" stroke-linejoin="round">Socket</text>
<text x="508.9" y="497.8" font-size="25.5" font-weight="normal" fill="#1b1b1b" text-anchor="start" textLength="105.8" lengthAdjust="spacingAndGlyphs" stroke="#1b1b1b" stroke-width="1.15" stroke-linejoin="round">Cartilage</text>
<text x="515.8" y="671.6" font-size="25.5" font-weight="normal" fill="#1b1b1b" text-anchor="start" textLength="151" lengthAdjust="spacingAndGlyphs" stroke="#1b1b1b" stroke-width="1.15" stroke-linejoin="round">Trochanteric</text>
<text x="554.8" y="702.3" font-size="25.5" font-weight="normal" fill="#1b1b1b" text-anchor="start" textLength="64.7" lengthAdjust="spacingAndGlyphs" stroke="#1b1b1b" stroke-width="1.15" stroke-linejoin="round">bursa</text>
<text x="477.9" y="753.6" font-size="25.5" font-weight="normal" fill="#1b1b1b" text-anchor="start" textLength="160" lengthAdjust="spacingAndGlyphs" stroke="#1b1b1b" stroke-width="1.15" stroke-linejoin="round">Muscle strain</text>
<text x="474.3" y="860.9" font-size="25.5" font-weight="normal" fill="#1b1b1b" text-anchor="start" textLength="185.3" lengthAdjust="spacingAndGlyphs" stroke="#1b1b1b" stroke-width="1.15" stroke-linejoin="round">Gluteus meduis</text>
<text x="474.3" y="940" font-size="25.5" font-weight="normal" fill="#1b1b1b" text-anchor="start" textLength="186" lengthAdjust="spacingAndGlyphs" stroke="#1b1b1b" stroke-width="1.15" stroke-linejoin="round">Gluteus medius</text>
<text x="107" y="1042.2" font-size="25.5" font-weight="normal" fill="#1b1b1b" text-anchor="start" textLength="189" lengthAdjust="spacingAndGlyphs" stroke="#1b1b1b" stroke-width="1.15" stroke-linejoin="round">Pain in the joint</text>
<text x="433.4" y="1042.2" font-size="25.5" font-weight="normal" fill="#1b1b1b" text-anchor="start" textLength="195" lengthAdjust="spacingAndGlyphs" stroke="#1b1b1b" stroke-width="1.15" stroke-linejoin="round">Pain in muscles</text>

<!-- footer -->
<rect x="0" y="1077" width="720" height="2" fill="#2a2f3c"/>
<text x="431.3" y="1107.3" font-size="12.3" font-weight="bold" fill="#2d2d2d" text-anchor="start" textLength="198.2" lengthAdjust="spacingAndGlyphs">Evolve Physical Therapy + Sports</text>
<text x="546.3" y="1119.9" font-size="12.3" font-weight="bold" fill="#2d2d2d" text-anchor="start" textLength="83.2" lengthAdjust="spacingAndGlyphs">Rehabilitation</text>
<text x="545.4" y="1143.1" font-size="13.8" font-weight="normal" fill="#858585" text-anchor="start" textLength="83.5" lengthAdjust="spacingAndGlyphs">evolveny.com</text>
<g id="logo" mask="url(#stripes)" stroke="#2b2f4c" fill="none" stroke-linecap="round" stroke-linejoin="round">
<circle cx="683.4" cy="1098.8" r="2.9" fill="#2b2f4c" stroke-width="1"/>
<path d="M682.3,1105 L680.5,1116 L680,1127" stroke-width="9.5"/>
<path d="M677.5,1106.5 L668,1107.8 L668.8,1113 L670.6,1119.5" stroke-width="3.4"/>
<path d="M686.5,1108 L692.8,1111.5 L695.2,1106 L696.6,1103" stroke-width="3.4"/>
<path d="M683,1127 L692.5,1134.5" stroke-width="6.5"/>
<path d="M692.5,1134.5 L694.5,1143 L695.5,1152" stroke-width="4.2"/>
<path d="M677.5,1129 L666.5,1137.5" stroke-width="6.5"/>
<path d="M666.5,1137.5 L658,1144 L650.8,1149.5" stroke-width="4.2"/>
</g>
</svg>
</body></html>
